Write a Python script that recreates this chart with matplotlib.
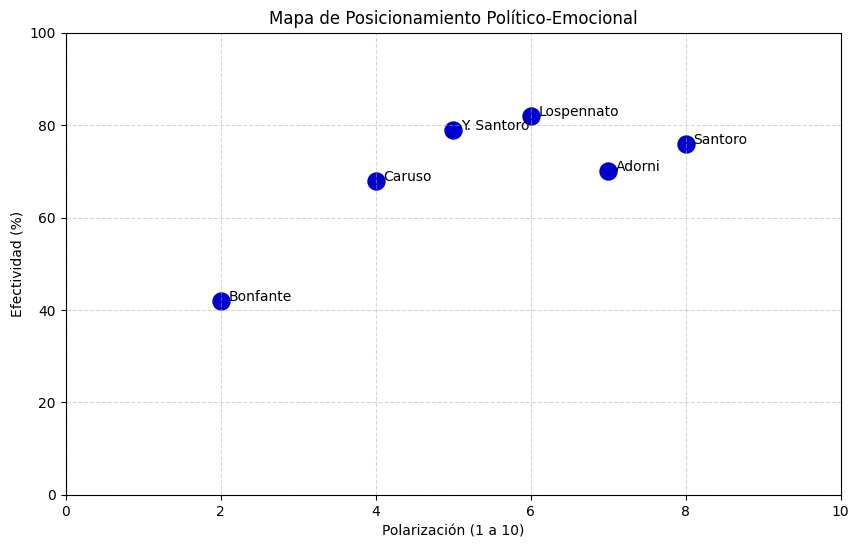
import matplotlib.pyplot as plt

# datos
nombres = ['Bonfante', 'Caruso', 'Y. Santoro', 'Lospennato', 'Adorni', 'Santoro']
polarizacion = [2, 4, 5, 6, 7, 8]
efectividad = [42, 68, 79, 82, 70, 76]


def main():
    fig = plt.figure(figsize=(10, 6))
    ax = fig.add_subplot(111)
    ax.scatter(polarizacion, efectividad, s=150, color='mediumblue')
    for x, y, n in zip(polarizacion, efectividad, nombres):
        ax.text(x + 0.1, y, n, fontsize=10)
    ax.set_title('Mapa de Posicionamiento Político-Emocional')
    ax.set_xlabel('Polarización (1 a 10)')
    ax.set_ylabel('Efectividad (%)')
    ax.set_xlim(0, 10)
    ax.set_ylim(0, 100)
    ax.grid(True, linestyle='--', alpha=0.5)
    fig.savefig('out.png', dpi=100, bbox_inches='tight')


if __name__ == '__main__':
    main()
